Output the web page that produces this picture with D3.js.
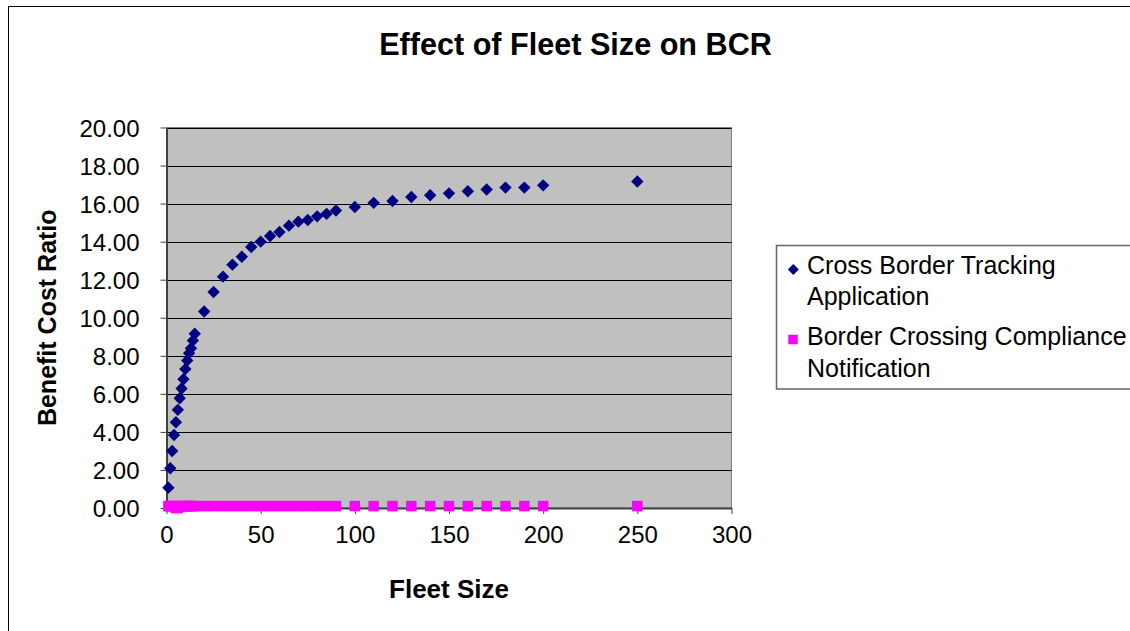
<!DOCTYPE html>
<html>
<head>
<meta charset="utf-8">
<script src="https://cdn.jsdelivr.net/npm/d3@7"></script>
<style>
  html, body { margin: 0; padding: 0; background: #fff; }
  svg { display: block; font-family: "Liberation Sans", Arial, sans-serif; }
</style>
</head>
<body>
<svg id="chart" width="1130" height="631"></svg>
<script>
// ---- data ----
const fleetSizes = [1,2,3,4,5,6,7,8,9,10,11,12,13,14,15,20,25,30,35,40,45,50,55,60,65,70,75,80,85,90,100,110,120,130,140,150,160,170,180,190,200,250];
const trackingBCR = [1.07,2.09,3.0,3.84,4.51,5.16,5.77,6.28,6.77,7.3,7.75,8.14,8.4,8.8,9.16,10.33,11.35,12.16,12.79,13.21,13.72,14.0,14.3,14.51,14.84,15.05,15.14,15.33,15.46,15.64,15.82,16.04,16.14,16.35,16.44,16.54,16.65,16.74,16.84,16.84,16.96,17.16];
const complianceBCR = [0.1,0.1,0.1,0.1,0.0,0.0,0.1,0.1,0.1,0.1,0.1,0.1,0.1,0.1,0.1,0.1,0.1,0.1,0.1,0.1,0.1,0.1,0.1,0.1,0.1,0.1,0.1,0.1,0.1,0.1,0.1,0.1,0.1,0.1,0.1,0.1,0.1,0.1,0.1,0.1,0.1,0.1];
const seriesNames = ["Cross Border Tracking Application", "Border Crossing Compliance Notification"];
const legendLines = [["Cross Border Tracking", "Application"], ["Border Crossing Compliance", "Notification"]];
const xTicks = [0,50,100,150,200,250,300];
const yTicks = [0,2,4,6,8,10,12,14,16,18,20];
const chartTitle = "Effect of Fleet Size on BCR";
const xTitle = "Fleet Size";
const yTitle = "Benefit Cost Ratio";

// ---- layout ----
const svg = d3.select("#chart");
const plot = {left: 166.5, right: 731.5, top: 127.5, bottom: 508};
const x = d3.scaleLinear().domain([0, 300]).range([plot.left, plot.right]);
const y = d3.scaleLinear().domain([0, 20]).range([plot.bottom, plot.top]);

// outer frame
svg.append("rect").attr("x", 8.5).attr("y", 6.5).attr("width", 1140).attr("height", 640)
  .attr("fill", "#fff").attr("stroke", "#000").attr("stroke-width", 1);

// plot background
svg.append("rect").attr("x", plot.left).attr("y", plot.top)
  .attr("width", plot.right - plot.left).attr("height", plot.bottom - plot.top)
  .attr("fill", "#C0C0C0").attr("stroke", "#808080").attr("stroke-width", 1);

// gridlines
svg.append("g").selectAll("line").data(yTicks.filter(d => d > 0)).join("line")
  .attr("x1", plot.left).attr("x2", plot.right)
  .attr("y1", d => Math.round(y(d)) + 0.5).attr("y2", d => Math.round(y(d)) + 0.5)
  .attr("stroke", "#000").attr("stroke-width", 1);

// axes
const yAxis = d3.axisLeft(y).tickValues(yTicks).tickFormat(d3.format(".2f")).tickSizeInner(6).tickSizeOuter(0).tickPadding(21);
const xAxis = d3.axisBottom(x).tickValues(xTicks).tickFormat(d3.format("d")).tickSizeInner(6).tickSizeOuter(0).tickPadding(12);

const gy = svg.append("g").attr("transform", `translate(${plot.left},0)`).call(yAxis);
const gx = svg.append("g").attr("transform", `translate(0,${plot.bottom})`).call(xAxis);
[gx, gy].forEach(g => {
  g.select(".domain").attr("stroke", "#404040").attr("stroke-width", 2);
  g.selectAll(".tick line").attr("stroke", "#404040").attr("stroke-width", 1);
  g.selectAll(".tick text").attr("fill", "#000").style("font-size", "24px")
    .style("font-family", "'Liberation Sans', Arial, sans-serif");
});
gy.selectAll(".tick text").attr("dy", "0.36em");
gx.selectAll(".tick text").attr("dy", "0.7em");

// series: compliance squares (drawn first) then tracking diamonds
const sq = 10.5;
svg.append("g").selectAll("rect").data(fleetSizes.map((f, i) => [f, complianceBCR[i]])).join("rect")
  .attr("x", d => x(d[0]) - sq / 2).attr("y", d => y(d[1]) - sq / 2)
  .attr("width", sq).attr("height", sq).attr("fill", "#FF00FF");

const dia = 6.2;
svg.append("g").selectAll("path").data(fleetSizes.map((f, i) => [f, trackingBCR[i]])).join("path")
  .attr("d", d => {
    const cx = x(d[0]), cy = y(d[1]);
    return `M${cx},${cy - dia}L${cx + dia},${cy}L${cx},${cy + dia}L${cx - dia},${cy}Z`;
  })
  .attr("fill", "#000080");

// titles
svg.append("text").attr("x", 575.5).attr("y", 55).attr("text-anchor", "middle")
  .style("font-size", "30.6px").style("font-weight", "bold").text(chartTitle);
svg.append("text").attr("x", (plot.left + plot.right) / 2).attr("y", 597.5).attr("text-anchor", "middle")
  .style("font-size", "26px").style("font-weight", "bold").text(xTitle);
svg.append("text").attr("transform", `translate(56,${(plot.top + plot.bottom) / 2}) rotate(-90)`)
  .attr("text-anchor", "middle")
  .style("font-size", "25px").style("font-weight", "bold").text(yTitle);

// legend
const lg = svg.append("g");
lg.append("rect").attr("x", 776.5).attr("y", 245.5).attr("width", 400).attr("height", 143.5)
  .attr("fill", "#fff").attr("stroke", "#666").attr("stroke-width", 1.5);
const legBase = [[274.3, 305], [345, 376.7]];
const legMarkY = [269.5, 339.5];
// diamond marker
lg.append("path").attr("d", () => {
  const cx = 793.3, cy = legMarkY[0], r = 5.5;
  return `M${cx},${cy - r}L${cx + r},${cy}L${cx},${cy + r}L${cx - r},${cy}Z`;
}).attr("fill", "#000080");
lg.append("rect").attr("x", 793 - 4.75).attr("y", legMarkY[1] - 4.75).attr("width", 9.5).attr("height", 9.5).attr("fill", "#FF00FF");
legendLines.forEach((lines, i) => {
  lines.forEach((t, j) => {
    lg.append("text").attr("x", 807).attr("y", legBase[i][j]).style("font-size", "25px").text(t);
  });
});
</script>
</body>
</html>
